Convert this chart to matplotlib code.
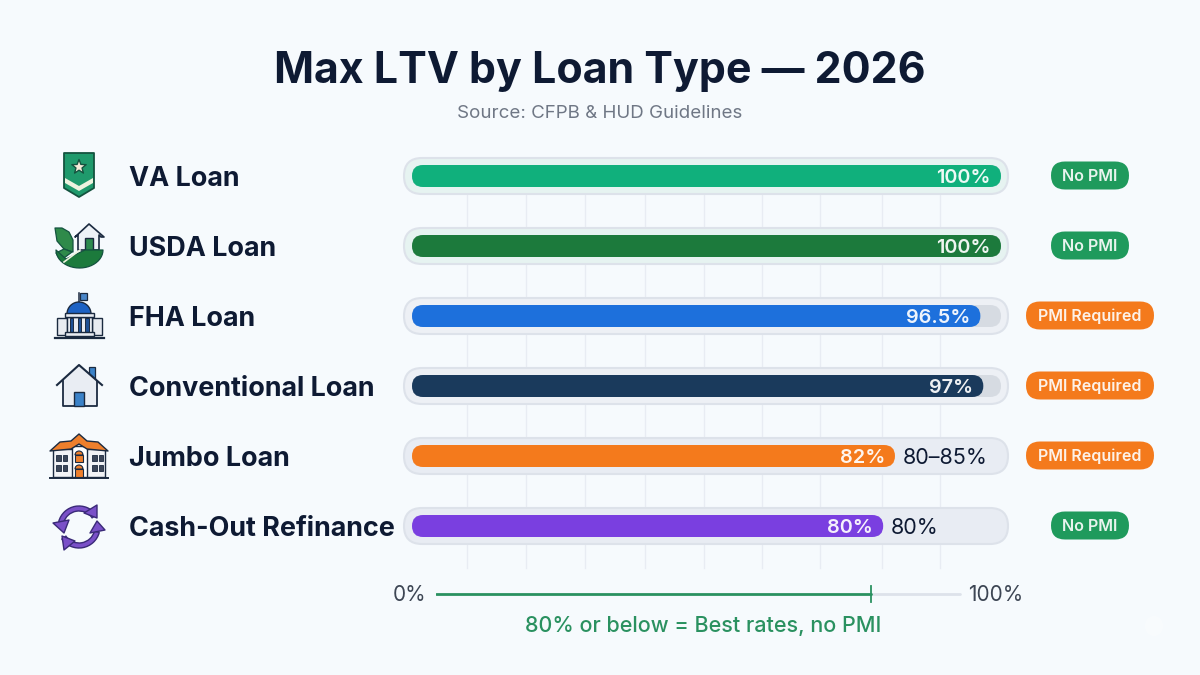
# -*- coding: utf-8 -*-
# Max LTV by loan type, horizontal pill bars with PMI badges and a small scale below
import matplotlib
matplotlib.use('Agg')
import matplotlib.pyplot as plt
import numpy as np
from matplotlib.patches import FancyBboxPatch, Polygon, Rectangle, Wedge, Ellipse

loans = ['VA Loan', 'USDA Loan', 'FHA Loan', 'Conventional Loan', 'Jumbo Loan', 'Cash-Out Refinance']
max_ltv = [100, 100, 96.5, 97, 82, 80]
value_labels = ['100%', '100%', '96.5%', '97%', '82%', '80%']
outside_labels = ['', '', '', '', '80–85%', '80%']
pmi_labels = ['No PMI', 'No PMI', 'PMI Required', 'PMI Required', 'PMI Required', 'No PMI']
bar_colors = ['#10b07c', '#1c7a3c', '#1d70dc', '#1a3a5c', '#f47a1c', '#7a3fe0']
grid_ticks = [9.3, 19.4, 29.4, 39.5, 49.5, 59.5, 69.2, 79.8, 89.6]
threshold = 80
scale_end = 96.3

W, H = 1200, 675
INK = '#0e1a33'
DARK = '#1b2a40'
plt.rcParams['font.family'] = ['Inter', 'DejaVu Sans']

fig = plt.figure(figsize=(W / 100, H / 100), dpi=100, facecolor='#f6fafd')

# overlay in pixel coordinates for title, icons and badges
bg = fig.add_axes([0, 0, 1, 1])
bg.set_xlim(0, W)
bg.set_ylim(H, 0)
bg.axis('off')

# main axes: 0-100 runs from x=412 to x=1001, one row every 70 px
ax = fig.add_axes([412 / W, 1 - 561 / H, 589 / W, 420 / H])
ax.set_xlim(0, 100)
ax.set_ylim(5.5, -0.5)
ax.axis('off')
ax.patch.set_alpha(0)

x_px = 589 / 100
y_px = 70.0
aspect = x_px / y_px


def pill(a, x0, x1, y, h_px, color, ec='none', lw=0, z=2):
    r = h_px / 2 / x_px
    h = h_px / y_px
    a.add_patch(FancyBboxPatch((x0, y - h / 2), x1 - x0, h,
                               boxstyle='round,pad=0,rounding_size=%f' % r,
                               mutation_aspect=aspect, fc=color, ec=ec, lw=lw, zorder=z, clip_on=False))


def poly(pts, fc, ec=DARK, lw=1.1, z=3):
    bg.add_patch(Polygon(pts, closed=True, fc=fc, ec=ec, lw=lw, zorder=z, joinstyle='round'))


def rect(x0, y0, x1, y1, fc, ec=DARK, lw=1.0, z=3):
    bg.add_patch(Rectangle((x0, y0), x1 - x0, y1 - y0, fc=fc, ec=ec, lw=lw, zorder=z))


def va_icon():
    poly([(64, 153), (94, 153), (94, 188), (79, 197), (64, 188)], '#1f9a6c', ec='#14533f', lw=1.3)
    ang = np.deg2rad(np.arange(0, 360, 36) - 90)
    rad = np.where(np.arange(10) % 2 == 0, 7.5, 3.2)
    poly(np.c_[79 + rad * np.cos(ang), 167 + rad * np.sin(ang)], '#f6ecd9', ec='#14533f', lw=1.0, z=4)
    poly([(65, 178), (79, 186), (93, 178), (93, 183), (79, 191), (65, 183)], '#eef3df', ec='none', z=4)


def usda_icon():
    poly([(89, 224), (104, 237), (101, 237), (99, 235), (99, 250), (78, 250), (78, 235), (75, 237)], '#eef2f7',
         lw=1.2, z=3)
    rect(85, 238, 93, 250, '#2d8a4e', z=4)
    # hill: lower half of an ellipse, top edge rising to the right
    t = np.deg2rad(np.linspace(0, 180, 25))
    hill = np.c_[79.5 + 23.5 * np.cos(t), 250 + 18 * np.sin(t)]
    poly(np.r_[hill, [(66, 259), (85, 250)]], '#1c7a3c', ec='#14533f', lw=0.9, z=5)
    # leaves
    poly([(55, 228), (62, 228), (69, 232), (73, 240), (73, 252), (64, 249), (57, 241)], '#2f8a4a', ec='#14533f',
         lw=0.9, z=4)
    poly([(56, 253), (64, 249), (72, 252), (64, 258), (59, 258)], '#2f8a4a', ec='#14533f', lw=0.9, z=4)
    bg.plot([64, 80], [262, 250], color='#eef3df', lw=1.2, zorder=6)


def fha_icon():
    bg.plot([79, 79], [293, 304], color=DARK, lw=1.1, zorder=3)
    rect(80, 293, 87, 300, '#4a86c8', lw=0.9)
    rect(57, 318, 67, 335, '#e8ebf1')
    rect(92, 318, 102, 335, '#e8ebf1')
    bg.add_patch(Wedge((79, 314), 12, 180, 360, fc='#1d62c4', ec=DARK, lw=1.0, zorder=4))
    rect(67, 317, 92, 333, '#e8ebf1')
    rect(65, 313, 94, 317, '#e8ebf1', z=5)
    for cx in [71.5, 79.3, 87]:
        rect(cx - 1.7, 318, cx + 1.7, 332, '#1d4f94', lw=0.7, z=5)
    rect(65, 332, 94, 336, '#e8ebf1', z=5)
    bg.plot([55, 104], [337.5, 337.5], color=DARK, lw=1.6, zorder=6)


def house_icon():
    rect(89, 367, 95, 380, '#3b82c8', lw=0.9, z=2)
    poly([(79, 365), (97, 381), (97, 406), (63, 406), (63, 381)], '#e9edf3', ec='none', z=3)
    bg.plot([57, 79, 102], [385, 365, 385], color=DARK, lw=1.5, zorder=4, solid_joinstyle='round')
    bg.plot([63, 63, 97, 97], [381, 406, 406, 381], color=DARK, lw=1.3, zorder=4)
    rect(74, 392, 84, 406, '#3b82c8', lw=1.0, z=5)


def jumbo_icon():
    rect(53, 449, 105, 477, '#f2f3f6')
    rect(72, 446, 87, 477, '#ffffff')
    poly([(50, 451), (60, 442), (71, 441), (79, 434), (87, 441), (98, 442), (108, 451), (87, 449), (79, 444),
          (71, 449)], '#ee7f2c', lw=1.0, z=4)
    for wx in [(56, 60.5), (62.5, 67), (92, 96.5), (98.5, 103)]:
        for wy in [(455, 460.5), (465, 470.5)]:
            rect(wx[0], wy[0], wx[1], wy[1], '#3c4658', lw=0.6, z=4)
    rect(75, 455, 83, 462, '#ee7f2c', lw=0.8, z=4)
    bg.add_patch(Wedge((79, 455), 4, 180, 360, fc='#ee7f2c', ec=DARK, lw=0.8, zorder=4))
    rect(75, 469, 83, 477, '#ee7f2c', lw=0.8, z=4)
    bg.add_patch(Wedge((79, 469), 4, 180, 360, fc='#ee7f2c', ec=DARK, lw=0.8, zorder=4))
    bg.plot([50, 108], [477.5, 477.5], color=DARK, lw=1.4, zorder=5)


def refinance_icon():
    fill, edge = '#7a50c8', '#3a2a78'
    # y axis points down here, so 200-340 deg is the upper arc
    bg.add_patch(Wedge((79, 527), 21, 195, 325, width=5, fc=fill, ec=edge, lw=1.0, zorder=3))
    bg.add_patch(Wedge((79, 527), 21, 15, 145, width=5, fc=fill, ec=edge, lw=1.0, zorder=3))
    poly([(53, 523), (69, 520), (64, 533)], fill, ec=edge, lw=1.0, z=4)
    poly([(105, 530), (90, 533), (97, 521)], fill, ec=edge, lw=1.0, z=4)
    poly([(97, 505), (97, 518), (84, 513)], fill, ec=edge, lw=1.0, z=4)
    poly([(62, 536), (64, 550), (75, 541)], fill, ec=edge, lw=1.0, z=4)


for draw_icon in [va_icon, usda_icon, fha_icon, house_icon, jumbo_icon, refinance_icon]:
    draw_icon()

for g in grid_ticks:
    ax.plot([g, g], [0, 5.6], color='#e8ecf3', lw=1, zorder=1, clip_on=False)

for i, (name, val) in enumerate(zip(loans, max_ltv)):
    # outer track, inner track, then the value bar
    outer = '#e6f3f1' if val == 100 else ('#edf0f5' if val > 90 else '#e8ecf3')
    pill(ax, -8 / x_px, 100 + 7 / x_px, i, 36, outer, ec='#dde2ea', lw=1.5, z=2)
    if val > 90:
        pill(ax, 0, 100, i, 22, '#d6dbe2', z=3)
    pill(ax, 0, val, i, 22, bar_colors[i], z=4)
    ax.text(val - 10 / x_px, i + 0.03, value_labels[i], color='white', ha='right', va='center',
            fontsize=14.3, fontweight='semibold', zorder=5, alpha=0.93)
    if outside_labels[i]:
        ax.text(val + 8 / x_px, i + 0.03, outside_labels[i], color=INK, ha='left', va='center',
                fontsize=15.5, zorder=5)
    bg.text(129, 178.5 + 70 * i, name, color=INK, ha='left', va='center', fontsize=19.4,
            fontweight='bold')

# PMI badges
for i, lab in enumerate(pmi_labels):
    y = 175.5 + 70 * i
    if lab == 'No PMI':
        x0, x1, c = 1051, 1129, '#1f9a5c'
    else:
        x0, x1, c = 1026, 1154, '#f47a1c'
    bg.add_patch(FancyBboxPatch((x0, y - 14), x1 - x0, 28, boxstyle='round,pad=0,rounding_size=14',
                                fc=c, ec='none'))
    bg.text((x0 + x1) / 2, y + 1, lab, color='white', ha='center', va='center', fontsize=11.6,
            fontweight='semibold', alpha=0.9)

bg.text(600, 71, 'Max LTV by Loan Type — 2026', color=INK, ha='center', va='center', fontsize=30.9,
        fontweight='bold')
bg.text(600, 113, 'Source: CFPB & HUD Guidelines', color='#6f7785', ha='center', va='center', fontsize=13.5)

# scale under the bars
sc = fig.add_axes([436 / W, 1 - 604 / H, 544 / W, 20 / H])
sc.set_xlim(0, 100)
sc.set_ylim(-1, 1)
sc.axis('off')
sc.patch.set_alpha(0)
sc.plot([threshold, scale_end], [0, 0], color='#dde2ea', lw=2, solid_capstyle='round')
sc.plot([0, threshold], [0, 0], color='#2a9160', lw=2, solid_capstyle='round')
sc.plot([threshold, threshold], [-0.8, 0.8], color='#2a9160', lw=1.3)
bg.text(410, 595, '0%', color='#3d4654', ha='center', va='center', fontsize=15)
bg.text(996, 595, '100%', color='#3d4654', ha='center', va='center', fontsize=15)
bg.text(703.5, 626, '80% or below = Best rates, no PMI', color='#2a9160', ha='center', va='center',
        fontsize=15.5, fontweight='medium')

# faint sparkle in the lower right corner
bg.add_patch(Ellipse((1154, 626), 18, 20, fc='white', ec='none', alpha=0.3))

fig.savefig('out.png', dpi=100, facecolor=fig.get_facecolor())
